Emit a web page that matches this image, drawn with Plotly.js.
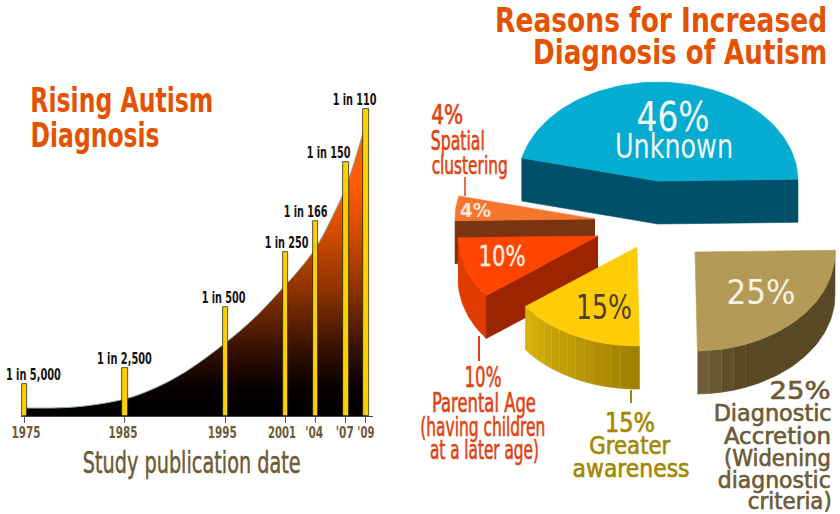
<!DOCTYPE html>
<html><head><meta charset="utf-8">
<script src="https://cdn.plot.ly/plotly-3.0.1.min.js"></script>
<style>html,body{margin:0;padding:0;background:#fff}#c{width:840px;height:514px}</style>
</head><body><div id="c"></div>
<script>
// ---------- data: rising diagnosis ----------
const years = [1975, 1985, 1995, 2001, 2004, 2007, 2009];
const tickLabels = ['1975', '1985', '1995', '2001', "'04", "'07", "'09"];
const rateLabels = ['1 in 5,000', '1 in 2,500', '1 in 500', '1 in 250', '1 in 166', '1 in 150', '1 in 110'];
const barHeights = [32, 48, 109, 164, 195, 254, 307];
const curveYears = [1975, 1980, 1985, 1988, 1991, 1995, 1998, 2001, 2002.5, 2004, 2005.5, 2007, 2009];
const curveHeights = [8, 9, 17, 28, 44, 73, 99, 131, 148, 168, 196, 229, 293];
// ---------- data: reasons ----------
const reasons = ['Unknown', 'Spatial clustering', 'Parental Age', 'Greater awareness', 'Diagnostic Accretion'];
const shares = [46, 4, 10, 15, 25];

const FONT = '"DejaVu Sans Condensed","DejaVu Sans",sans-serif';
const ORANGE = '#e45200', RED = '#e2410f', GOLD = '#a38700', BROWN = '#6d5b36';

// pie geometry (pixel axes)
const RX = 140, RY = 99, DEPTH = 43, START_DEG = 1;
const apex = [[658,181],[595,219],[598,236],[637,247],[695,252]];
const topCol = ['#05acd2','#f7762f','#ff4500','#ffcc08','#b49a57'];

const traces = [];
traces.push({type:'scatter', x:curveYears, y:curveHeights, mode:'lines', xaxis:'x', yaxis:'y',
  line:{shape:'spline', color:'#8fa9a8', width:1}, fill:'tozeroy',
  fillgradient:{type:'vertical', start:0, stop:232, colorscale:[[0,'#000000'],[0.12,'#060100'],[0.3,'#3a1200'],[0.55,'#8f3400'],[0.8,'#d44d00'],[1,'#ff5c00']]},
  hoverinfo:'skip', showlegend:false});
traces.push({type:'bar', x:years, y:barHeights, xaxis:'x3', yaxis:'y3', width:0.55,
  marker:{color:'#ffd000', line:{color:'#111', width:0.7}}, text:rateLabels, textposition:'none',
  hovertemplate:'%{text}<extra></extra>', showlegend:false});

function pt(c, deg, dy){ const a=deg*Math.PI/180; return [c[0]+RX*Math.cos(a), c[1]-RY*Math.sin(a)+(dy||0)]; }
function arc(c,a0,a1,dy){ const out=[]; const n=Math.max(2,Math.ceil(Math.abs(a1-a0)/2)); for(let i=0;i<=n;i++) out.push(pt(c,a0+(a1-a0)*i/n,dy)); return out; }
function poly(points,color,name){
  traces.push({type:'scatter', mode:'lines', xaxis:'x2', yaxis:'y2', x:points.map(p=>p[0]), y:points.map(p=>p[1]),
    fill:'toself', fillcolor:color, line:{color:color,width:0.6}, hoverinfo:name?'text':'skip', text:name||'', showlegend:false});
}
function mix(a,b,t){ const h=s=>[1,3,5].map(i=>parseInt(s.substr(i,2),16)); const A=h(a),B=h(b);
  return 'rgb('+A.map((v,i)=>Math.round(v+(B[i]-v)*t)).join(',')+')'; }
function rim(c,a0,a1,c0,c1,step){ const n=Math.ceil((a1-a0)/step);
  for(let i=0;i<n;i++){ const s=a0+(a1-a0)*i/n,e=a0+(a1-a0)*(i+1)/n;
    poly(arc(c,s,e,0).concat(arc(c,e,s,DEPTH)),mix(c0,c1,i/(n-1||1))); } }
function edge(c,deg,color){ const p=pt(c,deg); poly([c,p,[p[0],p[1]+DEPTH],[c[0],c[1]+DEPTH]],color); }

let ang=[START_DEG];
shares.forEach(s=>ang.push(ang[ang.length-1]+s*3.6));
edge(apex[0],ang[1],'#00506a'); edge(apex[0],ang[0],'#00506a');
edge(apex[1],ang[2],'#7a3410');
rim(apex[2],ang[2],ang[3],'#e03c00','#e03c00',40); edge(apex[2],ang[3],'#9c2500');
rim(apex[3],ang[3],ang[4],'#d6b00c','#9f8000',4);
rim(apex[4],ang[4],ang[4]+20,'#6f5e38','#584824',5);
rim(apex[4],ang[4]+20,ang[5],'#584824','#584824',90);
shares.forEach((s,i)=>{
  poly([apex[i]].concat(arc(apex[i],ang[i],ang[i+1])).concat([apex[i]]),topCol[i],reasons[i]+': '+s+'%');
});

const ann=[], fitW=[], fitStroke=[];
function t(text,cx,y,size,color,w,weight,stroke){
  ann.push({xref:'x2',yref:'y2',x:cx,y:y,text:text,showarrow:false,xanchor:'center',yanchor:'middle',
    font:{family:FONT,size:size,color:color,weight:weight||400}});
  fitW.push(w); fitStroke.push(stroke?[stroke,color]:null);
}
// headings
t('Rising Autism',122,100,34,ORANGE,183,700);
t('Diagnosis',95,135,34,ORANGE,129,700);
t('Reasons for Increased',661,20,33,ORANGE,332,700);
t('Diagnosis of Autism',680,52,33,ORANGE,294,700);
t('Study publication date',191.5,462,30,BROWN,218,400,0.5);
// bar labels, hung from the bars through the overlay axes
const labelShift=[8.5,0,-2.3,0.5,-9.7,-16.8,-10.9], labelW=[55,55,44,44,44,44,44];
years.forEach((y,i)=>{ ann.push({xref:'x3',yref:'y3',x:y,y:barHeights[i],text:rateLabels[i],showarrow:false,
  xanchor:'center',yanchor:'middle',xshift:labelShift[i],yshift:9.5,font:{family:FONT,size:16,color:'#111',weight:700}});
  fitW.push(labelW[i]); fitStroke.push(null); });
// slice percentages
t(shares[0]+'%',673,117,40,'#f6fbfb',73);
t(reasons[0],674,146,34,'#f4f8f4',118);
t(shares[1]+'%',475,210,19,'#f6e6da',31,700);
t(shares[2]+'%',502,256,29,'#fbeee6',47,400,0.4);
t(shares[3]+'%',604,307,34,'#4a4030',56);
t(shares[4]+'%',761,292,34,'#f6f2e6',69);
// outer labels
const SW=0.6;
t(shares[1]+'%',447,114,27,RED,32,400,SW); t('Spatial',458,140,27,RED,54,400,SW); t('clustering',469,165,25,RED,76,400,SW);
t(shares[2]+'%',483,377,28,RED,37,400,SW); t('Parental Age',484,402,27,RED,104,400,SW); t('(having children',483,427,26,RED,125,400,SW); t('at a later age)',484,450,26,RED,109,400,SW);
t(shares[3]+'%',630,423,26,GOLD,50,400,SW); t('Greater',630,445,25,GOLD,81,400,SW); t('awareness',631,468,25,GOLD,117,400,SW);
t(shares[4]+'%',800,391,24,BROWN,61,400,SW); t('Diagnostic',772,413,23,BROWN,118,400,SW); t('Accretion',777.5,436,23,BROWN,107,400,SW);
t('(Widening',777,458,23,BROWN,107,400,SW); t('diagnostic',774,480,23,BROWN,113,400,SW); t('criteria)',789,501,23,BROWN,84,400,SW);

const leaders=[[465,177,465,196,RED,1.5],[479,336,479,361,RED,2],[631,390,631,403,GOLD,2]].map(l=>({type:'line',xref:'x2',yref:'y2',
  x0:l[0],y0:l[1],x1:l[2],y1:l[3],line:{color:l[4],width:l[5]}}));

const W=840,H=514, xL=21,xR=373,yB=416,yT=96;
const pxPerYear=10.04, xRange=[1975-(24.5-xL)/pxPerYear,1975+(xR-24.5)/pxPerYear];
const yRange=[0,yB-yT];
const layout={width:W,height:H,margin:{l:0,r:0,t:0,b:0},paper_bgcolor:'#fff',plot_bgcolor:'rgba(0,0,0,0)',showlegend:false,
  xaxis:{domain:[xL/W,xR/W],range:xRange,tickmode:'array',tickvals:years,ticktext:tickLabels,tickangle:0,ticks:'outside',ticklen:6,tickwidth:1,tickcolor:'#555',
    ticklabelstandoff:-4,showgrid:false,zeroline:false,showline:true,linecolor:'#444',linewidth:1,
    tickfont:{family:FONT,size:16,color:BROWN,weight:700}},
  yaxis:{domain:[(H-yB)/H,(H-yT)/H],range:yRange,visible:false,showgrid:false,zeroline:false},
  xaxis3:{overlaying:'x',matches:'x',visible:false,range:xRange},
  yaxis3:{overlaying:'y',matches:'y',visible:false,range:yRange},
  xaxis2:{domain:[0,1],range:[0,W],visible:false,fixedrange:true,anchor:'y2'},
  yaxis2:{domain:[0,1],range:[H,0],visible:false,fixedrange:true,anchor:'x2'},
  annotations:ann,shapes:leaders,bargap:0};
const tickW=[29,29,29,28,18,18,17], tickDx=[1.5,-2,-3,-3.5,-1.5,-1,0];
Plotly.newPlot('c',traces,layout,{displayModeBar:false}).then(()=>{
  // fit the condensed letters to the widths
  document.querySelectorAll('.annotation').forEach(g=>{
    const i=+g.getAttribute('data-index'), el=g.querySelector('.annotation-text');
    if(!el) return;
    if(fitW[i]){ el.setAttribute('textLength',fitW[i]); el.setAttribute('lengthAdjust','spacingAndGlyphs'); }
    if(fitStroke[i]){ el.style.stroke=fitStroke[i][1]; el.style.strokeWidth=fitStroke[i][0]+'px'; }
  });
  document.querySelectorAll('.xtick text').forEach((el,i)=>{
    if(tickW[i]){ el.setAttribute('textLength',tickW[i]); el.setAttribute('lengthAdjust','spacingAndGlyphs'); el.setAttribute('dx',tickDx[i]); }
  });
});
</script></body></html>
